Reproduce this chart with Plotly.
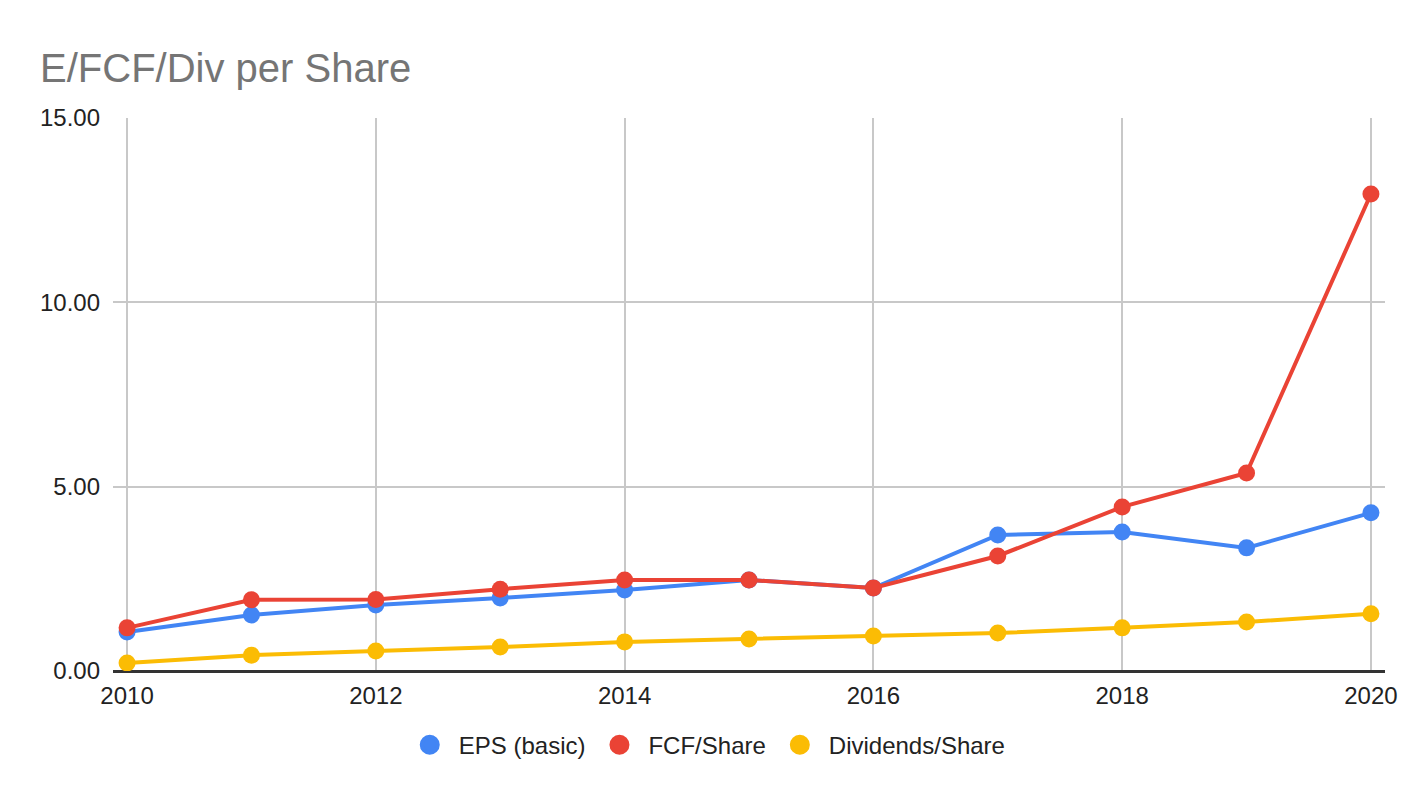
import plotly.graph_objects as go

years = [2010, 2011, 2012, 2013, 2014, 2015, 2016, 2017, 2018, 2019, 2020]
eps_basic = [1.06, 1.52, 1.79, 1.98, 2.20, 2.47, 2.25, 3.69, 3.77, 3.34, 4.29]
fcf_share = [1.17, 1.93, 1.94, 2.22, 2.47, 2.47, 2.25, 3.12, 4.45, 5.37, 12.94]
div_share = [0.22, 0.43, 0.54, 0.65, 0.79, 0.87, 0.95, 1.03, 1.17, 1.33, 1.55]

series = [
    ('EPS (basic)', eps_basic, '#4285F4'),
    ('FCF/Share', fcf_share, '#EA4335'),
    ('Dividends/Share', div_share, '#FBBC04'),
]

FONT = 'Liberation Sans, Arial, sans-serif'

fig = go.Figure()

# lines + markers
for name, vals, col in series:
    fig.add_trace(go.Scatter(
        x=years, y=vals, name=name, mode='lines+markers',
        line=dict(color=col, width=4),
        marker=dict(color=col, size=17),
        showlegend=False, hoverinfo='x+y+name'
    ))

# legend entries: circles only, like the sheets chart
# (legend caps marker size at 16, the outline makes them a bit bigger)
for name, vals, col in series:
    fig.add_trace(go.Scatter(
        x=[None], y=[None], name=name, mode='markers',
        marker=dict(color=col, size=16, line=dict(color=col, width=4)),
    ))

# page body has an 8px margin, so margins are shifted by that much
fig.update_layout(
    width=1424, height=798,
    paper_bgcolor='white', plot_bgcolor='white',
    margin=dict(l=105, r=47, t=110, b=135),
    font=dict(family=FONT, size=24, color='#222222'),
    title=dict(text='E/FCF/Div per Share', x=0.0225, xanchor='left', y=0.925, yanchor='middle',
               font=dict(family=FONT, size=40, color='#757575')),
    legend=dict(orientation='h', x=0.466, xanchor='center', y=-0.134, yanchor='middle',
                font=dict(family=FONT, size=24, color='#222222'),
                itemsizing='trace', itemwidth=48, traceorder='normal'),
)

fig.update_xaxes(
    range=[2009.887, 2020.113], tickmode='linear', tick0=2010, dtick=2,
    showgrid=True, gridcolor='#c8c8c8', gridwidth=1.5,
    showline=False, zeroline=False, ticks='', ticklabelstandoff=8,
)
fig.update_yaxes(
    range=[0, 15], tickmode='array', tickvals=[0, 5, 10, 15],
    tickformat='.2f', showgrid=True, gridcolor='#c8c8c8', gridwidth=1.5,
    zeroline=True, zerolinecolor='#333333', zerolinewidth=2.5,
    showline=False, ticks='', ticklabelstandoff=12,
)

fig.write_html('out.html')
